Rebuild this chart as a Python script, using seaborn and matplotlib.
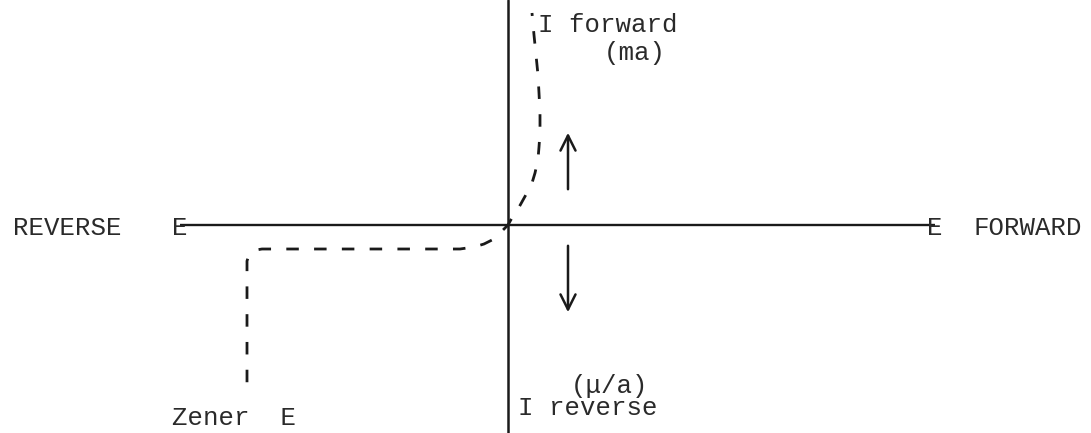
import matplotlib
matplotlib.use("Agg")
import matplotlib.pyplot as plt
import seaborn as sns

# schematic diode characteristic, units: E to the right, I upwards (origin at axis crossing)
fwd_e = [0, 5, 10, 15, 20, 24, 27, 30, 31, 32, 32, 31, 30, 28, 26, 24]
fwd_i = [0, 9, 16, 25, 34, 42, 52, 66, 78, 92, 112, 132, 150, 170, 190, 212]

rev_e = [0, -5, -10, -16, -24, -34, -48, -150, -246, -252, -256, -259, -261, -261, -261]
rev_i = [0, -5, -10, -15, -19, -22, -24, -24, -24, -25, -27, -30, -36, -46, -162]

axis_e = [-328, 427]          # horizontal E axis, between the two "E" marks
up_arrow = (60, 33, 60, 95)   # tail/head of I-forward arrow
down_arrow = (60, -18, 60, -90)

sns.set_theme(style="white")
plt.rcParams["font.family"] = ["Liberation Mono", "DejaVu Sans Mono"]

fig = plt.figure(figsize=(10.91, 4.33), dpi=100)
ax = fig.add_axes([0, 0, 1, 1])
ax.set_xlim(-508, 583)
ax.set_ylim(-208, 225)
ax.set_axis_off()

ink = "#1a1a1a"
txt = "#2a2a2a"

# axes of the characteristic
ax.plot(axis_e, [0, 0], color=ink, lw=1.7, solid_capstyle="butt")
ax.axvline(0, color=ink, lw=1.8)

# forward and reverse branches
sns.lineplot(x=fwd_e, y=fwd_i, sort=False, estimator=None, ax=ax,
             color=ink, lw=2.0, linestyle=(2, (4.5, 5.5)))
sns.lineplot(x=rev_e, y=rev_i, sort=False, estimator=None, ax=ax,
             color=ink, lw=2.0, linestyle=(2, (4.5, 5.5)))

# direction arrows
for x0, y0, x1, y1 in (up_arrow, down_arrow):
    ax.annotate("", xy=(x1, y1), xytext=(x0, y0),
                arrowprops=dict(arrowstyle="->,head_length=0.9,head_width=0.45",
                                color=ink, lw=1.8))

fs = 18.5
ax.text(-495, -10, "REVERSE", fontsize=fs, color=txt, va="baseline", ha="left")
ax.text(-328, -10, "E", fontsize=fs, color=txt, va="baseline", ha="center")
ax.text(427, -10, "E", fontsize=fs, color=txt, va="baseline", ha="center")
ax.text(465, -10, "FORWARD", fontsize=fs, color=txt, va="baseline", ha="left")
ax.text(30, 193, "I forward", fontsize=fs, color=txt, va="baseline", ha="left")
ax.text(96, 165, "(ma)", fontsize=fs, color=txt, va="baseline", ha="left")
ax.text(63, -168, "(\u03bc/a)", fontsize=fs, color=txt, va="baseline", ha="left")
ax.text(10, -190, "I reverse", fontsize=fs, color=txt, va="baseline", ha="left")
ax.text(-336, -200, "Zener  E", fontsize=fs, color=txt, va="baseline", ha="left")

fig.savefig("out.png", dpi=100, facecolor="white")
